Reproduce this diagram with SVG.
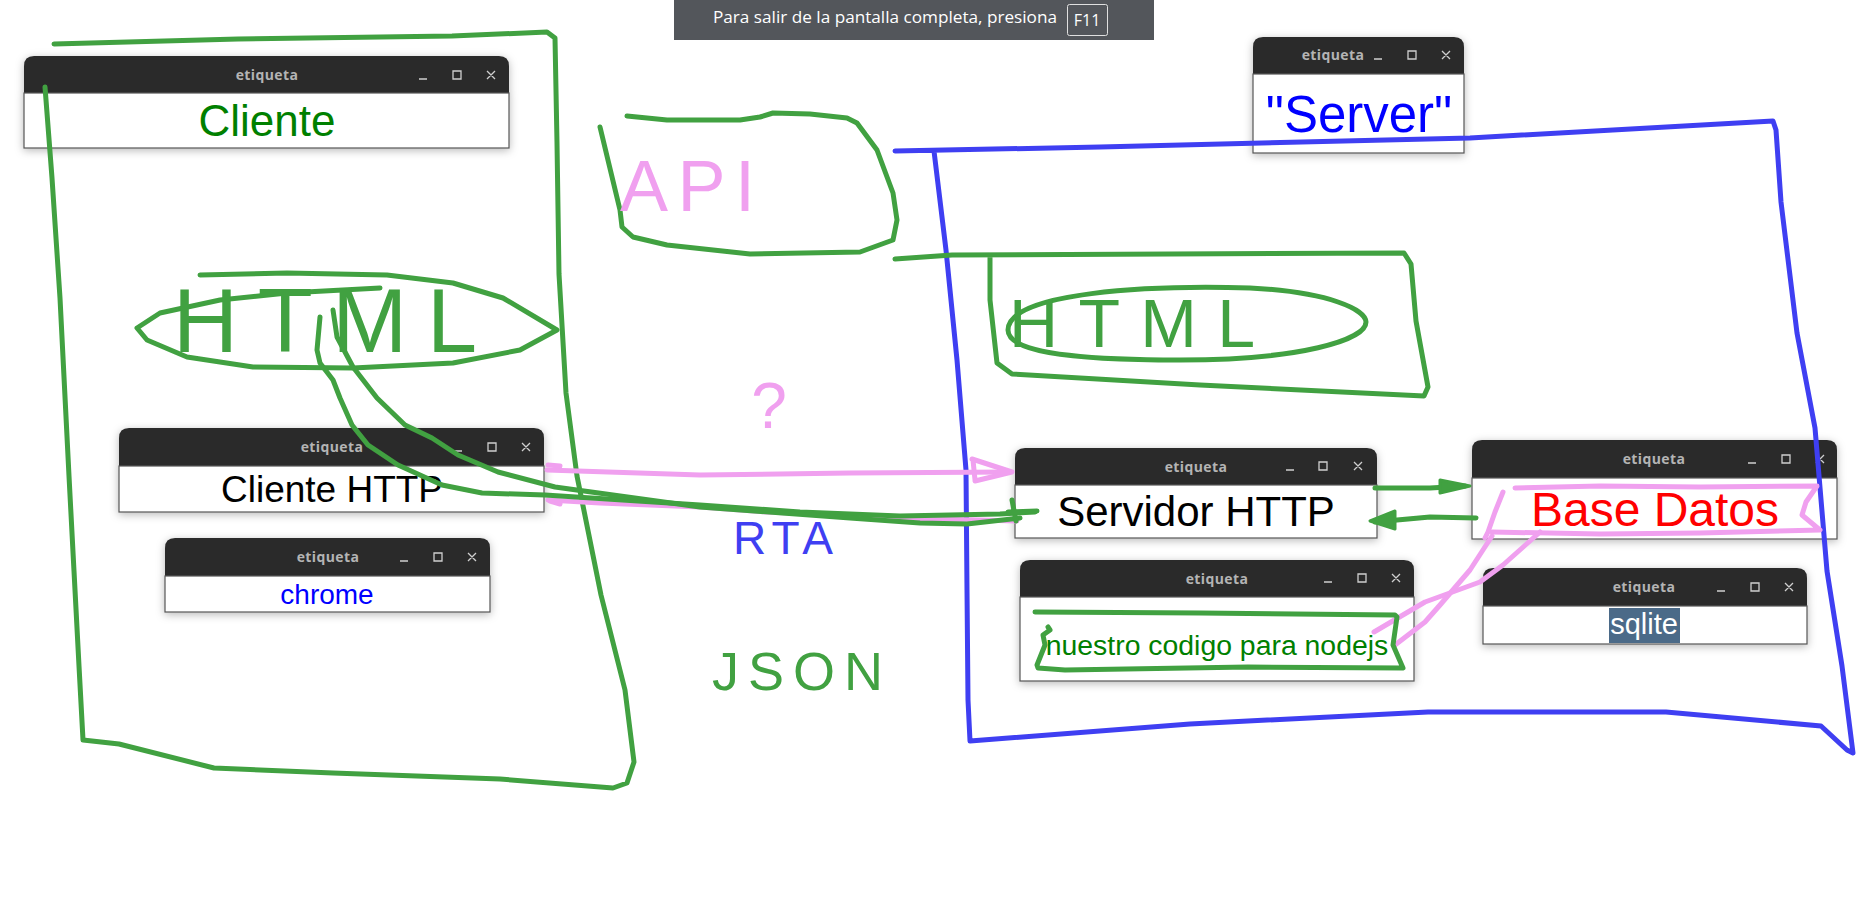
<svg xmlns="http://www.w3.org/2000/svg" width="1866" height="920" viewBox="0 0 1866 920">
<defs>
<filter id="sh" x="-10%" y="-30%" width="120%" height="160%">
<feDropShadow dx="0" dy="2" stdDeviation="4" flood-color="#000" flood-opacity="0.28"/>
</filter>
<style>
.bar{fill:#2c2c2c}
.body{fill:#fff;stroke:#555;stroke-width:1.2}
.ttl{font-family:"Open Sans","Noto Sans",sans-serif;font-weight:bold;font-size:14px;fill:#b4b4b4;text-anchor:middle;letter-spacing:0.4px}
.btn{stroke:#cfcfcf;stroke-width:1.3;fill:none}
.lbl{font-family:"Liberation Sans",Arial,sans-serif;text-anchor:middle}
.g{stroke:#41a141;stroke-width:5;fill:none;stroke-linecap:round;stroke-linejoin:round}
.b{stroke:#3f3ff2;stroke-width:5;fill:none;stroke-linecap:round;stroke-linejoin:round}
.p{stroke:#f0a0ef;stroke-width:5;fill:none;stroke-linecap:round;stroke-linejoin:round}
.hw{font-family:"Liberation Sans",Arial,sans-serif}
</style>
</defs>
<rect width="1866" height="920" fill="#fff"/>

<g id="banner">
<rect x="674" y="0" width="480" height="40" fill="#53565b"/>
<text x="713" y="23" font-family="'Open Sans','Noto Sans',sans-serif" font-size="16" fill="#fff" textLength="344" lengthAdjust="spacingAndGlyphs">Para salir de la pantalla completa, presiona</text>
<rect x="1067.5" y="4.5" width="40" height="31" rx="2" fill="none" stroke="#e0e0e0" stroke-width="1"/>
<text x="1087" y="26" font-family="'Open Sans','Noto Sans',sans-serif" font-size="16" fill="#fff" text-anchor="middle">F11</text>
</g>

<g id="win-cliente">
<g filter="url(#sh)"><path class="bar" d="M24,93 V66 Q24,56 34,56 H499 Q509,56 509,66 V93 Z"/><rect class="body" x="24" y="93" width="485" height="55"/></g>
<text class="ttl" x="267" y="80">etiqueta</text>
<path class="btn" d="M419,79 H427 M453,71 h8 v8 h-8 Z M487,71 L495,79 M495,71 L487,79"/>
<text class="lbl" x="267" y="136" font-size="44" fill="#008000">Cliente</text>
</g>

<g id="win-cliente-http">
<g filter="url(#sh)"><path class="bar" d="M119,466 V438 Q119,428 129,428 H534 Q544,428 544,438 V466 Z"/><rect class="body" x="119" y="466" width="425" height="46"/></g>
<text class="ttl" x="332" y="452">etiqueta</text>
<path class="btn" d="M454,451 H462 M488,443 h8 v8 h-8 Z M522,443 L530,451 M530,443 L522,451"/>
<text class="lbl" x="332" y="502" font-size="37" fill="#000">Cliente HTTP</text>
</g>

<g id="win-chrome">
<g filter="url(#sh)"><path class="bar" d="M165,576 V548 Q165,538 175,538 H480 Q490,538 490,548 V576 Z"/><rect class="body" x="165" y="576" width="325" height="36"/></g>
<text class="ttl" x="328" y="562">etiqueta</text>
<path class="btn" d="M400,561 H408 M434,553 h8 v8 h-8 Z M468,553 L476,561 M476,553 L468,561"/>
<text class="lbl" x="327" y="604" font-size="28" fill="#0000ff">chrome</text>
</g>

<g id="win-server">
<g filter="url(#sh)"><path class="bar" d="M1253,74 V47 Q1253,37 1263,37 H1454 Q1464,37 1464,47 V74 Z"/><rect class="body" x="1253" y="74" width="211" height="79"/></g>
<text class="ttl" x="1333" y="60">etiqueta</text>
<path class="btn" d="M1374,59 H1382 M1408,51 h8 v8 h-8 Z M1442,51 L1450,59 M1450,51 L1442,59"/>
<text class="lbl" x="1359" y="132" font-size="51" fill="#0000ff">"Server"</text>
</g>

<g id="win-servidor-http">
<g filter="url(#sh)"><path class="bar" d="M1015,485 V458 Q1015,448 1025,448 H1367 Q1377,448 1377,458 V485 Z"/><rect class="body" x="1015" y="485" width="362" height="53"/></g>
<text class="ttl" x="1196" y="472">etiqueta</text>
<path class="btn" d="M1286,470 H1294 M1319,462 h8 v8 h-8 Z M1354,462 L1362,470 M1362,462 L1354,470"/>
<text class="lbl" x="1196" y="526" font-size="42" fill="#000">Servidor HTTP</text>
</g>

<g id="win-base-datos">
<g filter="url(#sh)"><path class="bar" d="M1472,478 V450 Q1472,440 1482,440 H1827 Q1837,440 1837,450 V478 Z"/><rect class="body" x="1472" y="478" width="365" height="61"/></g>
<text class="ttl" x="1654" y="464">etiqueta</text>
<path class="btn" d="M1748,463 H1756 M1782,455 h8 v8 h-8 Z M1816,455 L1824,463 M1824,455 L1816,463"/>
<text class="lbl" x="1655" y="526" font-size="48" fill="#ff0000">Base Datos</text>
</g>

<g id="win-nuestro-codigo">
<g filter="url(#sh)"><path class="bar" d="M1020,597 V570 Q1020,560 1030,560 H1404 Q1414,560 1414,570 V597 Z"/><rect class="body" x="1020" y="597" width="394" height="84"/></g>
<text class="ttl" x="1217" y="584">etiqueta</text>
<path class="btn" d="M1324,582 H1332 M1358,574 h8 v8 h-8 Z M1392,574 L1400,582 M1400,574 L1392,582"/>
<text class="lbl" x="1217" y="655" font-size="28.4" fill="#008000">nuestro codigo para nodejs</text>
</g>

<g id="win-sqlite">
<g filter="url(#sh)"><path class="bar" d="M1483,606 V578 Q1483,568 1493,568 H1797 Q1807,568 1807,578 V606 Z"/><rect class="body" x="1483" y="606" width="324" height="38"/></g>
<text class="ttl" x="1644" y="592">etiqueta</text>
<path class="btn" d="M1717,591 H1725 M1751,583 h8 v8 h-8 Z M1785,583 L1793,591 M1793,583 L1785,591"/>
<rect x="1609" y="608" width="71" height="35" fill="#4b6a88"/>
<text class="lbl" x="1644" y="634" font-size="29" fill="#fff">sqlite</text>
</g>

<g id="connectors">
<!-- left client box -->
<path class="g" d="M54,44 L238,39 L452,36 L547,32 L555,38 L557,143 L559,274 L566,393 L577,476 L601,595 L625,690 L634,762 L627,783 L613,788 L500,779 L333,773 L214,768 L119,744 L83,740 L79,666 L74,571 L69,476 L60,298 L52,178 L45,87"/>
<!-- left HTML ellipse -->
<path class="g" d="M200,275 L287,273 L387,275 L453,283 L503,298 L557,330 L520,350 L453,363 L353,368 L253,367 L187,357 L147,340 L137,328 L160,313 L220,300 L287,293 L380,288"/>
<!-- API box -->
<path class="g" d="M627,116 L667,120 L740,120 L760,117 L773,113 L810,114 L847,118 L857,123 L877,150 L893,193 L897,220 L893,240 L860,252 L750,254 L667,245 L633,237 L622,227 L620,210 L600,127"/>
<!-- blue server box -->
<path class="b" d="M895,151 L1100,147 L1470,138 L1773,121 L1776,130 L1781,202 L1797,333 L1815,428 L1827,571 L1842,666 L1853,753 L1847,750 L1821,726 L1666,712 L1428,712 L1190,724 L970,741 L968,700 L967,590 L966,470 L957,360 L946,250 L934,151"/>
<!-- right HTML box -->
<path class="g" d="M895,259 L952,255 L1404,253 L1411,264 L1416,321 L1428,387 L1424,396 L1200,385 L1012,374 L997,363 L990,300 L990,256"/>
<path class="g" d="M1008,330 C1008,292 1150,285 1250,288 C1330,292 1366,310 1366,322 C1366,340 1300,360 1180,360 C1060,360 1008,350 1008,330 Z"/>
<!-- pink second line (under green) -->
<path class="p" d="M548,500 L600,503 L700,507 L767,512 L900,518 L1017,521"/>
<!-- green curves from HTML to Servidor HTTP -->
<path class="g" d="M320,317 L317,350 L320,363 L333,380 L340,398 L352,425 L368,445 L398,465 L442,485 L482,493 L545,495 L700,505 L800,512 L900,516 L1000,514 L1035,512"/>
<path class="g" d="M333,310 L337,337 L353,367 L377,398 L405,425 L432,438 L458,455 L498,472 L555,487 L700,507 L850,518 L920,523 L967,524 L1020,518"/>
<path class="g" d="M1012,500 L1016,521 M1008,512 L1037,511" stroke-width="7"/>
<!-- pink request arrow -->
<path class="p" d="M547,470 L700,475 L850,473 L1010,472"/>
<path class="p" d="M972,459 L1012,472 L975,481 M973,460 L975,480"/>
<path class="p" d="M548,465 L560,466 M550,501 L560,504"/>
<!-- green arrows between Servidor HTTP and Base Datos -->
<path class="g" d="M1375,488 L1430,488 L1465,486"/>
<path d="M1440,480 L1470,486 L1440,493 Z" fill="#41a141" stroke="#41a141" stroke-width="3" stroke-linejoin="round"/>
<path class="g" d="M1476,518 L1430,517 L1375,522"/>
<path d="M1395,511 L1370,521 L1395,529 Z" fill="#41a141" stroke="#41a141" stroke-width="3" stroke-linejoin="round"/>
<!-- pink outline of Base Datos and arrows to nodejs -->
<path class="p" d="M1515,488 L1600,486 L1700,487 L1817,486 L1806,502 L1802,515 L1820,530 L1700,533 L1600,534 L1492,532"/>
<path class="p" d="M1503,492 L1495,512 L1488,532 L1485,538"/>
<path class="p" d="M1540,532 L1503,565 L1480,582 L1425,602 L1374,632"/>
<path class="p" d="M1492,536 L1470,570 L1440,605 L1425,622 L1395,645"/>
<!-- green rectangle around nodejs text -->
<path class="g" d="M1035,612 L1200,613 L1395,615 L1397,617 L1393,645 L1403,668 L1248,667 L1065,670 L1038,668 L1037,665 L1045,645 L1043,635 L1050,630 L1048,627"/>
</g>

<g id="handwriting">
<text class="hw" x="173" y="352" font-size="90" fill="#41a141" textLength="304" lengthAdjust="spacing">HTML</text>
<text class="hw" x="1009" y="347" font-size="68" fill="#41a141" textLength="246" lengthAdjust="spacing">HTML</text>
<text class="hw" x="620" y="211" font-size="72" fill="#f0a0ef" textLength="135" lengthAdjust="spacing">API</text>
<text class="hw" x="769" y="428" font-size="64" fill="#f0a0ef" text-anchor="middle">?</text>
<text class="hw" x="733" y="554" font-size="46" fill="#3f3ff2" textLength="100" lengthAdjust="spacing">RTA</text>
<text class="hw" x="712" y="690" font-size="54" fill="#41a141" textLength="171" lengthAdjust="spacing">JSON</text>
</g>
</svg>
